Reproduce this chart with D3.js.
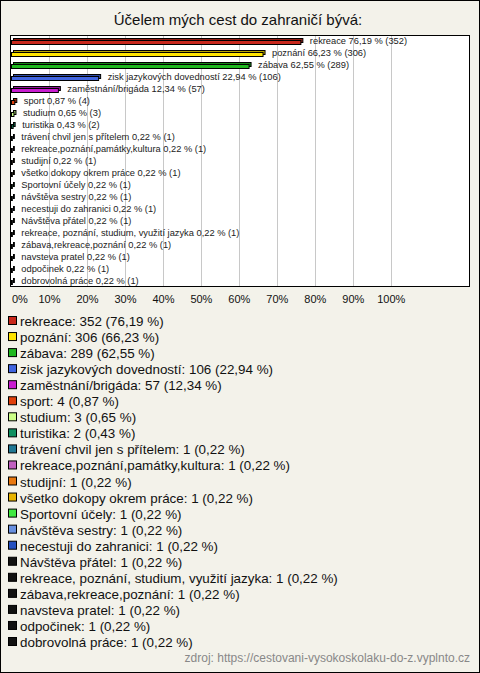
<!DOCTYPE html>
<html><head><meta charset="utf-8">
<script src="https://cdn.jsdelivr.net/npm/d3@7"></script>
<style>body{margin:0;background:#fff}svg{display:block}</style>
</head><body>
<script>
const categories = ["rekreace","poznání","zábava","zisk jazykových dovedností","zaměstnání/brigáda","sport","studium","turistika","trávení chvil jen s přítelem","rekreace,poznání,památky,kultura","studijní","všetko dokopy okrem práce","Sportovní účely","návštěva sestry","necestuji do zahranici","Návštěva přátel","rekreace, poznání, studium, využití jazyka","zábava,rekreace,poznání","navsteva pratel","odpočinek","dobrovolná práce"];
const counts = [352,306,289,106,57,4,3,2,1,1,1,1,1,1,1,1,1,1,1,1,1];
const percents = [76.19,66.23,62.55,22.94,12.34,0.87,0.65,0.43,0.22,0.22,0.22,0.22,0.22,0.22,0.22,0.22,0.22,0.22,0.22,0.22,0.22];
const colors = ["#c8281c","#ffe400","#20b820","#4064e0","#c81cd0","#e0400c","#ccff88","#109060","#207894","#c060c0","#e87810","#e8b400","#40e840","#6890e0","#2450c0","#111","#111","#111","#111","#111","#111"];
const tickValues = [0,10,20,30,40,50,60,70,80,90,100];
const title = "Účelem mých cest do zahraničí bývá:";
const source = "zdroj: https://cestovani-vysokoskolaku-do-z.vyplnto.cz";

const W=480,H=673;
const FONT="Liberation Sans, Arial, sans-serif";
const svg=d3.select("body").append("svg").attr("width",W).attr("height",H);
svg.append("rect").attr("x",0.5).attr("y",0.5).attr("width",W-1).attr("height",H-1).attr("fill","#f3f2ea").attr("stroke","#000");
svg.append("text").attr("x",238).attr("y",25).attr("text-anchor","middle").attr("font-family",FONT).attr("font-size",15).attr("fill","#111").text(title);

const pl=10,pt=35,pr=470,pb=287;
svg.append("rect").attr("x",pl+0.5).attr("y",pt+0.5).attr("width",pr-pl-1).attr("height",pb-pt-1).attr("fill","#fff");
const x=d3.scaleLinear().domain([0,100]).range([11.5,391.3]);
const y=d3.scaleBand().domain(categories).range([pt,pb]).paddingInner(0);
const g=svg.append("g");
g.selectAll("line.grid").data(tickValues.slice(1)).join("line")
 .attr("x1",d=>Math.round(x(d))+0.5).attr("x2",d=>Math.round(x(d))+0.5)
 .attr("y1",pt).attr("y2",pb).attr("stroke","#c8c8c8");
svg.append("rect").attr("x",pl+0.5).attr("y",pt+0.5).attr("width",pr-pl-1).attr("height",pb-pt-1).attr("fill","none").attr("stroke","#000");

const idx=d3.range(categories.length);
const bh=4;
const cy=i=>y(categories[i])+y.bandwidth()/2;
function darker(c){return d3.color(c).darker(0.9).formatHex();}
g.selectAll("rect.sh").data(idx).join("rect")
 .attr("x",x(0)+2).attr("y",i=>Math.round(cy(i))-2.5)
 .attr("width",i=>Math.max(x(percents[i])-x(0),0.5)).attr("height",bh)
 .attr("fill",i=>darker(colors[i])).attr("stroke","#000").attr("stroke-width",1);
g.selectAll("rect.bar").data(idx).join("rect")
 .attr("x",x(0)).attr("y",i=>Math.round(cy(i))-0.5)
 .attr("width",i=>Math.max(x(percents[i])-x(0),0.5)).attr("height",bh)
 .attr("fill",i=>colors[i]).attr("stroke","#000").attr("stroke-width",1);
g.selectAll("text.lab").data(idx).join("text")
 .attr("x",i=>x(percents[i])+9).attr("y",i=>cy(i)+3)
 .attr("font-family",FONT).attr("font-size",9.3).attr("fill","#222")
 .text(i=>categories[i]+" "+percents[i].toFixed(2).replace(".",",")+" % ("+counts[i]+")");

svg.append("g").selectAll("text").data(tickValues).join("text")
 .attr("x",d=>d===0?12:x(d)).attr("y",303).attr("text-anchor",d=>d===0?"start":"middle")
 .attr("font-family",FONT).attr("font-size",11).attr("fill","#111")
 .text(d=>d+"%");

const ly=d3.scalePoint().domain(categories).range([321,642]);
const lg=svg.append("g");
lg.selectAll("rect").data(idx).join("rect")
 .attr("x",8.5).attr("y",i=>ly(categories[i])-4.5).attr("width",8).attr("height",8)
 .attr("fill",i=>colors[i]).attr("stroke","#000");
lg.selectAll("text").data(idx).join("text")
 .attr("x",20).attr("y",i=>ly(categories[i])+5)
 .attr("font-family",FONT).attr("font-size",13.4).attr("fill","#111")
 .text(i=>categories[i]+": "+counts[i]+" ("+percents[i].toFixed(2).replace(".",",")+" %)");

svg.append("text").attr("x",470).attr("y",662).attr("text-anchor","end")
 .attr("font-family",FONT).attr("font-size",12).attr("fill","#888").text(source);
</script>
</body></html>
